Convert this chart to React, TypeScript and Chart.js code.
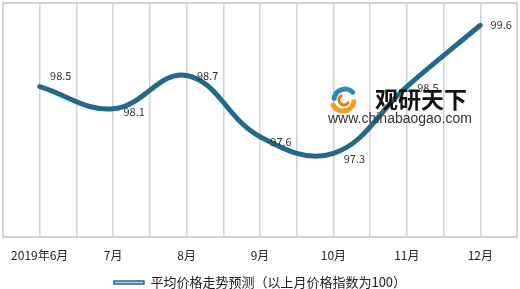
import React, { useEffect, useRef } from "react";
import { Chart, registerables } from "chart.js";

Chart.register(...registerables);

const categories = ["2019年6月", "7月", "8月", "9月", "10月", "11月", "12月"];
const values = [98.5, 98.1, 98.7, 97.6, 97.3, 98.5, 99.6];
const seriesName = "平均价格走势预测（以上月价格指数为100）";
const labelDy = [-11, 3, 0, 5, 5, 1, 0];

const DARK = "#22698a";
const LIGHT = "#b7d3df";
const FONT = "'Noto Sans CJK SC', 'Noto Sans', sans-serif";

const framePlugin = {
  id: "frame",
  afterDraw(chart: any) {
    const { ctx, chartArea: a } = chart;
    ctx.save();
    ctx.strokeStyle = "#d2d2d2";
    ctx.lineWidth = 2;
    ctx.strokeRect(a.left, a.top, a.right - a.left, a.bottom - a.top);
    ctx.restore();
  },
};

const labelPlugin = {
  id: "valueLabels",
  afterDatasetsDraw(chart: any) {
    const { ctx } = chart;
    const meta = chart.getDatasetMeta(0);
    ctx.save();
    ctx.font = `11px ${FONT}`;
    ctx.fillStyle = "#333333";
    ctx.textAlign = "center";
    ctx.textBaseline = "middle";
    meta.data.forEach((pt: any, i: number) => {
      ctx.fillText(String(values[i]), pt.x + 21, pt.y + labelDy[i]);
    });
    ctx.restore();
  },
};

const watermarkPlugin = {
  id: "watermark",
  afterDraw(chart: any) {
    const { ctx } = chart;
    ctx.save();
    ctx.lineCap = "round";
    ctx.lineWidth = 5;
    ctx.strokeStyle = "#2a8db0";
    ctx.beginPath();
    ctx.arc(345, 100, 11, Math.PI * 1.05, Math.PI * 1.75);
    ctx.stroke();
    ctx.strokeStyle = "#f0a020";
    ctx.beginPath();
    ctx.arc(343, 100, 11, Math.PI * 0.05, Math.PI * 0.85);
    ctx.stroke();
    ctx.strokeStyle = "#e07a10";
    ctx.lineWidth = 3;
    ctx.beginPath();
    ctx.arc(344, 100, 5, Math.PI * 0.2, Math.PI * 1.3);
    ctx.stroke();
    ctx.fillStyle = "#111111";
    ctx.textBaseline = "middle";
    ctx.textAlign = "left";
    ctx.font = `bold 23px 'Noto Sans CJK SC', sans-serif`;
    ctx.fillText("观研天下", 375, 99);
    ctx.fillStyle = "#333333";
    ctx.font = `14px 'Liberation Sans', Arial, sans-serif`;
    ctx.fillText("www.chinabaogao.com", 328, 119);
    ctx.restore();
  },
};

export default function App() {
  const ref = useRef<HTMLCanvasElement | null>(null);
  useEffect(() => {
    if (!ref.current) return;
    const chart = new Chart(ref.current, {
      type: "line",
      data: {
        datasets: [
          {
            label: seriesName,
            data: values.map((v, i) => ({ x: i, y: v })),
            borderColor: DARK,
            backgroundColor: LIGHT,
            borderWidth: 5,
            tension: 0.4,
            pointRadius: 0,
            borderCapStyle: "round",
          } as any,
          {
            label: "_inner",
            data: values.map((v, i) => ({ x: i, y: v })),
            borderColor: LIGHT,
            borderWidth: 1.2,
            tension: 0.4,
            pointRadius: 0,
          } as any,
        ],
      },
      options: {
        animation: false,
        responsive: false,
        layout: { padding: { left: 3, right: 3, top: 3, bottom: -10 } },
        scales: {
          x: {
            type: "linear",
            min: -0.5,
            max: 6.5,
            grid: {
              color: "#d2d2d2",
              lineWidth: 1.5,
              drawTicks: true,
              tickLength: 11,
              tickColor: "rgba(0,0,0,0)",
            },
            border: { display: false },
            afterFit: (s: any) => {
              s.height = 39;
            },
            ticks: {
              stepSize: 0.5,
              autoSkip: false,
              maxRotation: 0,
              padding: 0,
              color: "#222222",
              font: { family: FONT, size: 12 },
              callback: (v: any) =>
                Number.isInteger(v) ? categories[v] ?? "" : "",
            },
          } as any,
          y: {
            display: false,
            min: 95.8,
            max: 100,
          },
        },
        plugins: {
          legend: {
            position: "bottom",
            labels: {
              boxWidth: 30,
              boxHeight: 3,
              padding: 0,
              color: "#222222",
              font: { family: FONT, size: 13 },
              generateLabels: () => [
                {
                  text: seriesName,
                  fillStyle: LIGHT,
                  strokeStyle: DARK,
                  lineWidth: 1.5,
                  datasetIndex: 0,
                  hidden: false,
                  fontColor: "#222222",
                },
              ],
            },
          },
          tooltip: { enabled: false },
        },
      },
      plugins: [framePlugin, labelPlugin, watermarkPlugin],
    });
    return () => chart.destroy();
  }, []);
  return (
    <div style={{ position: "absolute", left: 0, top: 0, width: 520, height: 289, background: "#ffffff" }}>
      <canvas ref={ref} width={520} height={289} />
    </div>
  );
}
